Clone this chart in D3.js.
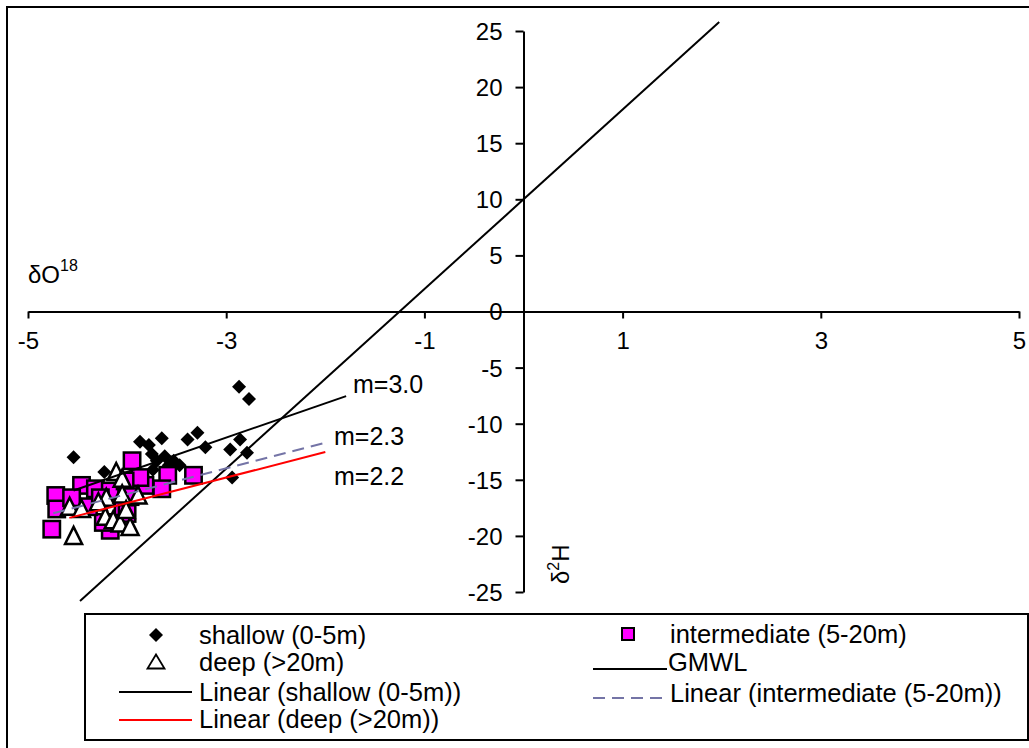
<!DOCTYPE html>
<html>
<head>
<meta charset="utf-8">
<script src="https://cdn.jsdelivr.net/npm/d3@7"></script>
<style>
  body { margin: 0; background: #fff; }
  text { font-family: "Liberation Sans", Arial, sans-serif; fill: #000; }
</style>
</head>
<body>
<div id="chart"></div>
<script>
// Isotope data (x = dO18, y = d2H)
const shallowX = [-2.87, -2.77, -4.54, -3.87, -3.78, -3.65, -3.39, -3.29, -3.21, -2.96, -2.86, -2.79,
                  -4.23, -2.94, -3.75, -3.70, -3.62, -3.53, -3.47, -3.58, -3.74];
const shallowY = [-6.7, -7.8, -13.0, -11.6, -11.9, -11.3, -11.4, -10.8, -12.1, -12.3, -11.4, -12.6,
                  -14.3, -14.8, -12.7, -13.3, -12.9, -13.3, -13.7, -13.7, -14.1];

const interX = [-3.95, -4.46, -4.72, -4.76, -4.71, -4.32, -4.17, -3.82, -3.59, -3.33, -3.65, -3.87,
                -4.02, -4.17, -4.24, -4.04, -4.39, -4.00, -4.56, -4.27, -3.97];
const interY = [-13.3, -15.5, -16.4, -19.4, -17.6, -15.8, -16.0, -15.5, -14.6, -14.6, -15.8, -14.8,
                -15.1, -19.5, -18.8, -17.4, -17.4, -18.0, -16.6, -16.6, -16.5];

const deepX = [-4.11, -4.05, -4.58, -4.54, -3.89, -4.21, -4.29, -4.46, -4.05, -4.22, -4.14, -4.07, -3.97, -4.01];
const deepY = [-14.3, -14.9, -17.4, -20.0, -16.4, -16.6, -17.0, -17.6, -16.3, -18.3, -18.6, -18.9, -19.2, -17.7];

// lines: GMWL + trendlines (slope, intercept, x range)
const lineNames = ["GMWL", "shallow", "intermediate", "deep"];
const lineSlopes = [8, 3.06, 2.29, 2.27];
const lineIntercepts = [10, -2.06, -7.11, -7.99];
const lineStartX = [-4.475, -4.54, -4.745, -4.583];
const lineEndX = [1.975, -1.79, -2.02, -2.0];
const lineColors = ["#000", "#000", "#7474a6", "#ff0000"];
const lineDash = [null, null, "12,7", null];

const slopeLabels = ["m=3.0", "m=2.3", "m=2.2"];

const xTicks = [-5, -3, -1, 1, 3, 5];
const yTicks = [25, 20, 15, 10, 5, 0, -5, -10, -15, -20, -25];

const width = 1029, height = 748;

const svg = d3.select("#chart").append("svg")
    .attr("width", width)
    .attr("height", height);

// outer chart frame (runs off the right/bottom edge like the original)
svg.append("rect")
    .attr("x", 7).attr("y", 7)
    .attr("width", width + 10).attr("height", height + 10)
    .attr("fill", "none").attr("stroke", "#000").attr("stroke-width", 2);

const x = d3.scaleLinear().domain([-5, 5]).range([28, 1019]);
const y = d3.scaleLinear().domain([-25, 25]).range([592, 31]);

// plain hyphen for negatives, as in the original
const fmt = d => String(d);

// axes crossing at the origin
const xAxis = svg.append("g")
    .attr("transform", `translate(0,${y(0)})`)
    .call(d3.axisBottom(x).tickValues(xTicks).tickSize(7).tickSizeOuter(0).tickFormat(fmt));
xAxis.selectAll("text").attr("y", 29).attr("dy", "0.35em").style("font-size", "24px");

const yAxis = svg.append("g")
    .attr("transform", `translate(${x(0)},0)`)
    .call(d3.axisLeft(y).tickValues(yTicks).tickSize(8).tickSizeOuter(0).tickFormat(fmt));
yAxis.selectAll("text").attr("x", -21).attr("dy", "0.35em").style("font-size", "24px");

svg.selectAll(".domain, .tick line").attr("stroke", "#000").attr("stroke-width", 2);
svg.selectAll(".tick text").attr("fill", "#000").style("font-family", "'Liberation Sans', Arial, sans-serif");

// axis titles
const xTitle = svg.append("text").attr("x", 28).attr("y", 283).style("font-size", "24px");
xTitle.append("tspan").text("δO");
xTitle.append("tspan").attr("dy", -12).style("font-size", "16px").text("18");

const yTitle = svg.append("text")
    .attr("transform", `translate(569,584) rotate(-90)`)
    .style("font-size", "24px");
yTitle.append("tspan").text("δ");
yTitle.append("tspan").attr("dy", -10).style("font-size", "16px").text("2");
yTitle.append("tspan").attr("dy", 10).text("H");

// markers
const diamond = s => `M0,${-s}L${s},0L0,${s}L${-s},0Z`;
const triangle = (w, t, b) => `M0,${-t}L${w},${b}L${-w},${b}Z`;

const marks = svg.append("g");

marks.selectAll(".shallow")
    .data(d3.zip(shallowX, shallowY))
    .enter().append("path")
    .attr("class", "shallow")
    .attr("d", diamond(7))
    .attr("transform", d => `translate(${x(d[0])},${y(d[1])})`)
    .attr("fill", "#000");

marks.selectAll(".inter")
    .data(d3.zip(interX, interY))
    .enter().append("rect")
    .attr("class", "inter")
    .attr("x", d => x(d[0]) - 8.2)
    .attr("y", d => y(d[1]) - 8.2)
    .attr("width", 16.4).attr("height", 16.4)
    .attr("fill", "#ff00ff").attr("stroke", "#000").attr("stroke-width", 2.5);

marks.selectAll(".deep")
    .data(d3.zip(deepX, deepY))
    .enter().append("path")
    .attr("class", "deep")
    .attr("d", triangle(8.5, 9, 8))
    .attr("transform", d => `translate(${x(d[0])},${y(d[1])})`)
    .attr("fill", "#fff").attr("stroke", "#000").attr("stroke-width", 2.5)
    .attr("stroke-linejoin", "miter");

// GMWL and trendlines
const lineData = lineNames.map((n, i) => ({
    name: n,
    pts: [lineStartX[i], lineEndX[i]].map(v => [v, lineSlopes[i] * v + lineIntercepts[i]]),
    color: lineColors[i],
    dash: lineDash[i]
}));

svg.append("g").selectAll("path")
    .data(lineData)
    .enter().append("path")
    .attr("d", d => d3.line().x(p => x(p[0])).y(p => y(p[1]))(d.pts))
    .attr("fill", "none")
    .attr("stroke", d => d.color)
    .attr("stroke-width", 2)
    .attr("stroke-dasharray", d => d.dash);

// slope labels
svg.append("g").selectAll("text")
    .data(slopeLabels)
    .enter().append("text")
    .attr("x", (d, i) => [353, 334, 334][i])
    .attr("y", (d, i) => [384, 436, 476][i])
    .attr("dy", "0.35em")
    .style("font-size", "25px")
    .text(d => d);

// legend
const legend = svg.append("g");
legend.append("rect")
    .attr("x", 85).attr("y", 614).attr("width", 943).attr("height", 126)
    .attr("fill", "#fff").attr("stroke", "#000").attr("stroke-width", 2);

const legendItems = [
    { label: "shallow (0-5m)", kind: "diamond", lx: 199, cx: 156, cy: 635 },
    { label: "deep (>20m)", kind: "triangle", lx: 199, cx: 156, cy: 662 },
    { label: "Linear (shallow (0-5m))", kind: "line", color: "#000", lx: 199, x0: 119, x1: 192, cy: 692, ly: 692 },
    { label: "Linear (deep (>20m))", kind: "line", color: "#ff0000", lx: 199, x0: 119, x1: 192, cy: 719, ly: 720 },
    { label: "intermediate (5-20m)", kind: "square", lx: 670, cx: 628, cy: 634 },
    { label: "GMWL", kind: "line", color: "#000", lx: 668, x0: 593, x1: 667, cy: 662, ly: 669 },
    { label: "Linear (intermediate (5-20m))", kind: "line", color: "#7474a6", dash: "12,7", lx: 670, x0: 593, x1: 667, cy: 693, ly: 698 }
];

legendItems.forEach(it => {
    if (it.kind === "diamond") {
        legend.append("path").attr("d", diamond(7))
            .attr("transform", `translate(${it.cx},${it.cy})`).attr("fill", "#000");
    } else if (it.kind === "triangle") {
        legend.append("path").attr("d", triangle(8.5, 7.5, 6.5))
            .attr("transform", `translate(${it.cx},${it.cy})`)
            .attr("fill", "#fff").attr("stroke", "#000").attr("stroke-width", 1.8);
    } else if (it.kind === "square") {
        legend.append("rect").attr("x", it.cx - 6).attr("y", it.cy - 6)
            .attr("width", 12).attr("height", 12)
            .attr("fill", "#ff00ff").attr("stroke", "#000").attr("stroke-width", 2);
    } else {
        legend.append("line").attr("x1", it.x0).attr("x2", it.x1)
            .attr("y1", it.ly).attr("y2", it.ly)
            .attr("stroke", it.color).attr("stroke-width", 2)
            .attr("stroke-dasharray", it.dash || null);
    }
    legend.append("text")
        .attr("x", it.lx).attr("y", it.cy)
        .attr("dy", "0.35em")
        .style("font-size", "25.5px")
        .text(it.label);
});
</script>
</body>
</html>
